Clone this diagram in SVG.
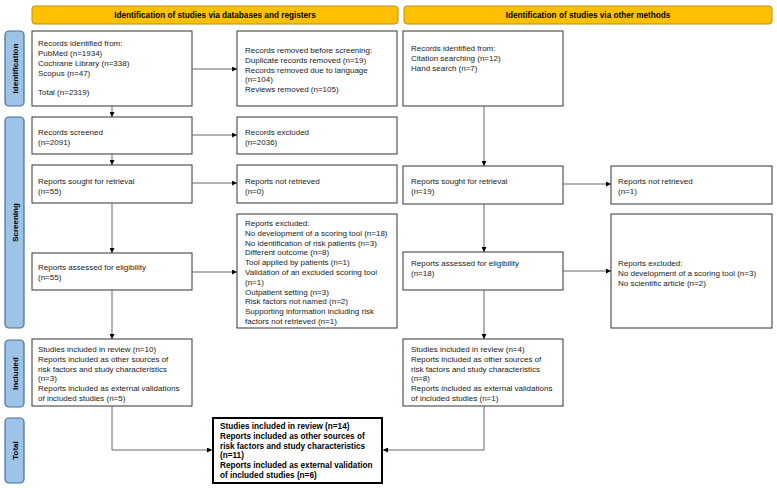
<svg xmlns="http://www.w3.org/2000/svg" width="777" height="488" viewBox="0 0 777 488">
<defs>
<style>
text{font-family:"Liberation Sans",Arial,sans-serif;font-size:8px;fill:#1a1a1a}
.hdr rect{fill:#FFC000;stroke:#BF9000;stroke-width:1}
.hdr text{font-weight:bold;text-anchor:middle;fill:#000;font-size:8.2px}
.side rect{fill:#9DC3E6;stroke:#41719C;stroke-width:1.2}
.side text{font-weight:bold;text-anchor:middle;fill:#000}
.box rect{fill:#fff;stroke:#333;stroke-width:1}
.tot rect{fill:#fff;stroke:#000;stroke-width:2}
.tot text{font-weight:bold;fill:#000;font-size:8.2px}
.conn path{fill:none;stroke:#666;stroke-width:1;marker-end:url(#ah)}
</style>
<marker id="ah" viewBox="0 0 6 6" refX="6" refY="3" markerWidth="5" markerHeight="5" markerUnits="userSpaceOnUse" orient="auto">
<path d="M0,0 L6,3 L0,6 Z" fill="#000"/>
</marker>
</defs>
<rect width="777" height="488" fill="#fff"/>

<g id="hdr-db" class="hdr"><rect x="32" y="6" width="366" height="18" rx="3"/><text x="215" y="17.5">Identification of studies via databases and registers</text></g>
<g id="hdr-other" class="hdr"><rect x="404" y="6" width="368" height="18" rx="3"/><text x="588" y="17.5">Identification of studies via other methods</text></g>

<g id="side-identification" class="side"><rect x="5" y="31" width="19" height="75" rx="4"/><text transform="translate(17.5,68.5) rotate(-90)">Identification</text></g>
<g id="side-screening" class="side"><rect x="5" y="117" width="19" height="211" rx="4"/><text transform="translate(17.5,222.5) rotate(-90)">Screening</text></g>
<g id="side-included" class="side"><rect x="5" y="340" width="19" height="67" rx="4"/><text transform="translate(17.5,373.5) rotate(-90)">Included</text></g>
<g id="side-total" class="side"><rect x="5" y="418" width="19" height="65" rx="4"/><text transform="translate(17.5,450.5) rotate(-90)">Total</text></g>

<g id="n-records-identified" class="box"><rect x="32" y="31" width="160" height="75"/>
<text x="38" y="46">Records identified from:</text>
<text x="38" y="56">PubMed (n=1934)</text>
<text x="38" y="66">Cochrane Library (n=338)</text>
<text x="38" y="76">Scopus (n=47)</text>
<text x="38" y="95">Total (n=2319)</text></g>

<g id="n-records-removed" class="box"><rect x="237" y="31" width="160" height="75"/>
<text x="245" y="53">Records removed before screening:</text>
<text x="245" y="62.8">Duplicate records removed (n=19)</text>
<text x="245" y="72.6">Records removed due to language</text>
<text x="245" y="82.4">(n=104)</text>
<text x="245" y="92.2">Reviews removed (n=105)</text></g>

<g id="n-other-identified" class="box"><rect x="403" y="31" width="160" height="75"/>
<text x="411" y="51">Records identified from:</text>
<text x="411" y="61">Citation searching (n=12)</text>
<text x="411" y="71">Hand search (n=7)</text></g>

<g id="n-records-screened" class="box"><rect x="32" y="117" width="160" height="37"/>
<text x="38" y="135">Records screened</text>
<text x="38" y="145">(n=2091)</text></g>

<g id="n-records-excluded" class="box"><rect x="237" y="117" width="160" height="37"/>
<text x="245" y="135">Records excluded</text>
<text x="245" y="145">(n=2036)</text></g>

<g id="n-sought" class="box"><rect x="32" y="165" width="160" height="38"/>
<text x="38" y="184">Reports sought for retrieval</text>
<text x="38" y="194">(n=55)</text></g>

<g id="n-not-retrieved" class="box"><rect x="237" y="165" width="160" height="38"/>
<text x="245" y="184">Reports not retrieved</text>
<text x="245" y="194">(n=0)</text></g>

<g id="n-other-sought" class="box"><rect x="403" y="166" width="160" height="38"/>
<text x="411" y="184">Reports sought for retrieval</text>
<text x="411" y="194">(n=19)</text></g>

<g id="n-other-not-retrieved" class="box"><rect x="611" y="166" width="161" height="38"/>
<text x="618" y="184">Reports not retrieved</text>
<text x="618" y="194">(n=1)</text></g>

<g id="n-reports-excluded" class="box"><rect x="237" y="214" width="160" height="114"/>
<text x="245" y="226">Reports excluded:</text>
<text x="245" y="235.8">No development of a scoring tool (n=18)</text>
<text x="245" y="245.6">No identification of risk patients (n=3)</text>
<text x="245" y="255.4">Different outcome (n=8)</text>
<text x="245" y="265.2">Tool applied by patients (n=1)</text>
<text x="245" y="275">Validation of an excluded scoring tool</text>
<text x="245" y="284.8">(n=1)</text>
<text x="245" y="294.6">Outpatient setting (n=3)</text>
<text x="245" y="304.4">Risk factors not named (n=2)</text>
<text x="245" y="314.2">Supporting information including risk</text>
<text x="245" y="324">factors not retrieved (n=1)</text></g>

<g id="n-other-reports-excluded" class="box"><rect x="611" y="214" width="161" height="114"/>
<text x="618" y="266">Reports excluded:</text>
<text x="618" y="276">No development of a scoring tool (n=3)</text>
<text x="618" y="286">No scientific article (n=2)</text></g>

<g id="n-assessed" class="box"><rect x="32" y="253" width="160" height="37"/>
<text x="38" y="270">Reports assessed for eligibility</text>
<text x="38" y="280">(n=55)</text></g>

<g id="n-other-assessed" class="box"><rect x="403" y="252" width="160" height="38"/>
<text x="411" y="266">Reports assessed for eligibility</text>
<text x="411" y="276">(n=18)</text></g>

<g id="n-included" class="box"><rect x="32" y="339" width="160" height="67"/>
<text x="38" y="352">Studies included in review (n=10)</text>
<text x="38" y="361.8">Reports included as other sources of</text>
<text x="38" y="371.6">risk factors and study characteristics</text>
<text x="38" y="381.4">(n=3)</text>
<text x="38" y="391.2">Reports included as external validations</text>
<text x="38" y="401">of included studies (n=5)</text></g>

<g id="n-other-included" class="box"><rect x="403" y="339" width="160" height="67"/>
<text x="411" y="352">Studies included in review (n=4)</text>
<text x="411" y="361.8">Reports included as other sources of</text>
<text x="411" y="371.6">risk factors and study characteristics</text>
<text x="411" y="381.4">(n=8)</text>
<text x="411" y="391.2">Reports included as external validations</text>
<text x="411" y="401">of included studies (n=1)</text></g>

<g id="n-total" class="tot"><rect x="213" y="418" width="169" height="65"/>
<text x="220" y="429">Studies included in review (n=14)</text>
<text x="220" y="438.8">Reports included as other sources of</text>
<text x="220" y="448.6">risk factors and study characteristics</text>
<text x="220" y="458.4">(n=11)</text>
<text x="220" y="468.2">Reports included as external validation</text>
<text x="220" y="478">of included studies (n=6)</text></g>

<g id="connectors" class="conn">
<path d="M112,106 V117"/>
<path d="M192,69 H237"/>
<path d="M192,135 H237"/>
<path d="M112,154 V165"/>
<path d="M192,183 H237"/>
<path d="M112,203 V253"/>
<path d="M192,272 H237"/>
<path d="M112,290 V339"/>
<path d="M484,106 V166"/>
<path d="M563,184 H611"/>
<path d="M484,204 V252"/>
<path d="M563,271 H611"/>
<path d="M484,290 V339"/>
<path d="M112,406 V450 H212"/>
<path d="M484,406 V450 H383"/>
</g>
</svg>
